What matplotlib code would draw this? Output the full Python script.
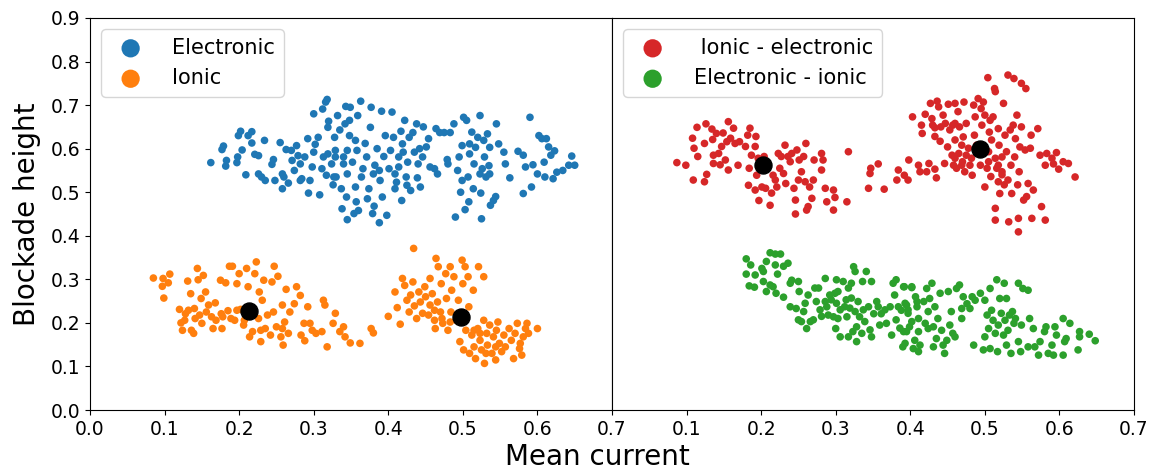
import numpy as np
import matplotlib
matplotlib.use("Agg")
import matplotlib.pyplot as plt

# ---- data ----
# left panel
electronic_pts = [
    (0.162, 0.568), (0.177, 0.598), (0.179, 0.606), (0.183, 0.573), (0.182, 0.560),
    (0.197, 0.568), (0.198, 0.581), (0.199, 0.630), (0.202, 0.640), (0.204, 0.597),
    (0.209, 0.540), (0.212, 0.630), (0.217, 0.639), (0.217, 0.613), (0.221, 0.587),
    (0.226, 0.584), (0.226, 0.542), (0.230, 0.535), (0.235, 0.527), (0.234, 0.619),
    (0.244, 0.564), (0.246, 0.575), (0.248, 0.527), (0.255, 0.614), (0.258, 0.542),
    (0.258, 0.508), (0.263, 0.598), (0.266, 0.521), (0.270, 0.596), (0.271, 0.573),
    (0.274, 0.550), (0.277, 0.607), (0.279, 0.584), (0.282, 0.565), (0.284, 0.531),
    (0.288, 0.581), (0.292, 0.623), (0.293, 0.498), (0.295, 0.527), (0.298, 0.558),
    (0.300, 0.592), (0.302, 0.610), (0.300, 0.680), (0.306, 0.626), (0.308, 0.494),
    (0.311, 0.554), (0.313, 0.581), (0.312, 0.691), (0.316, 0.707), (0.318, 0.713),
    (0.317, 0.539), (0.319, 0.649), (0.320, 0.663), (0.324, 0.565), (0.326, 0.517),
    (0.328, 0.626), (0.329, 0.581), (0.330, 0.535), (0.332, 0.676), (0.335, 0.643),
    (0.337, 0.508), (0.338, 0.462), (0.340, 0.565), (0.342, 0.657), (0.343, 0.697),
    (0.345, 0.437), (0.344, 0.489), (0.348, 0.665), (0.349, 0.695), (0.348, 0.630),
    (0.352, 0.569), (0.354, 0.451), (0.356, 0.512), (0.357, 0.478), (0.359, 0.676),
    (0.360, 0.458), (0.358, 0.596), (0.363, 0.709), (0.366, 0.554), (0.369, 0.612),
    (0.371, 0.581), (0.372, 0.485), (0.374, 0.508), (0.376, 0.649), (0.377, 0.695),
    (0.379, 0.451), (0.381, 0.468), (0.382, 0.562), (0.385, 0.600), (0.388, 0.430),
    (0.389, 0.527), (0.391, 0.686), (0.392, 0.489), (0.394, 0.582), (0.396, 0.630),
    (0.398, 0.447), (0.401, 0.554), (0.403, 0.596), (0.405, 0.684), (0.407, 0.626),
    (0.409, 0.508), (0.411, 0.523), (0.414, 0.558), (0.417, 0.640), (0.418, 0.481),
    (0.420, 0.592), (0.422, 0.665), (0.424, 0.535), (0.426, 0.569), (0.428, 0.626),
    (0.430, 0.504), (0.433, 0.637), (0.435, 0.592), (0.438, 0.657), (0.439, 0.533),
    (0.442, 0.600), (0.443, 0.512), (0.446, 0.581), (0.447, 0.650), (0.454, 0.623),
    (0.456, 0.558), (0.462, 0.554), (0.464, 0.646), (0.466, 0.542), (0.469, 0.637),
    (0.475, 0.637), (0.479, 0.575), (0.480, 0.565), (0.483, 0.637), (0.488, 0.657),
    (0.490, 0.443), (0.493, 0.550), (0.495, 0.581), (0.497, 0.500), (0.499, 0.607),
    (0.501, 0.672), (0.503, 0.460), (0.505, 0.665), (0.507, 0.535), (0.508, 0.478),
    (0.509, 0.588), (0.512, 0.638), (0.514, 0.508), (0.515, 0.565), (0.517, 0.603),
    (0.520, 0.626), (0.523, 0.676), (0.524, 0.498), (0.525, 0.439), (0.526, 0.554),
    (0.529, 0.581), (0.531, 0.535), (0.533, 0.634), (0.535, 0.561), (0.536, 0.603),
    (0.537, 0.470), (0.541, 0.481), (0.544, 0.490), (0.545, 0.657), (0.548, 0.611),
    (0.555, 0.592), (0.557, 0.565), (0.563, 0.533), (0.574, 0.594), (0.581, 0.585),
    (0.581, 0.497), (0.584, 0.558), (0.590, 0.672), (0.592, 0.512), (0.594, 0.563),
    (0.600, 0.542), (0.602, 0.630), (0.606, 0.623), (0.609, 0.569), (0.610, 0.535),
    (0.612, 0.623), (0.615, 0.604), (0.618, 0.585), (0.621, 0.531), (0.623, 0.595),
    (0.626, 0.546), (0.634, 0.550), (0.642, 0.562), (0.646, 0.583), (0.650, 0.562),
    (0.327, 0.535), (0.340, 0.581), (0.345, 0.542), (0.364, 0.535), (0.380, 0.542),
    (0.388, 0.550), (0.409, 0.542), (0.414, 0.581), (0.425, 0.516), (0.440, 0.565),
    (0.451, 0.604), (0.419, 0.611), (0.356, 0.619), (0.282, 0.527), (0.260, 0.535),
    (0.499, 0.527), (0.523, 0.542), (0.536, 0.542), (0.509, 0.611), (0.528, 0.619),
    (0.329, 0.596), (0.345, 0.596), (0.319, 0.588),
]

ionic_pts = [
    (0.085, 0.303), (0.097, 0.284), (0.098, 0.302), (0.099, 0.257), (0.105, 0.292),
    (0.107, 0.312), (0.120, 0.231), (0.122, 0.200), (0.124, 0.183), (0.127, 0.206),
    (0.131, 0.296), (0.132, 0.229), (0.135, 0.267), (0.136, 0.183), (0.139, 0.176),
    (0.140, 0.233), (0.141, 0.210), (0.144, 0.325), (0.145, 0.299), (0.147, 0.218),
    (0.149, 0.256), (0.150, 0.199), (0.152, 0.309), (0.155, 0.271), (0.156, 0.225),
    (0.159, 0.241), (0.163, 0.214), (0.165, 0.187), (0.168, 0.246), (0.169, 0.206),
    (0.175, 0.298), (0.177, 0.187), (0.178, 0.214), (0.182, 0.292), (0.185, 0.228),
    (0.187, 0.330), (0.191, 0.330), (0.194, 0.206), (0.197, 0.290), (0.200, 0.313),
    (0.202, 0.231), (0.206, 0.195), (0.210, 0.325), (0.212, 0.283), (0.214, 0.168),
    (0.218, 0.180), (0.221, 0.313), (0.223, 0.340), (0.226, 0.210), (0.227, 0.271),
    (0.229, 0.157), (0.231, 0.252), (0.233, 0.298), (0.235, 0.187), (0.238, 0.218),
    (0.242, 0.172), (0.244, 0.294), (0.246, 0.225), (0.247, 0.330), (0.250, 0.191),
    (0.252, 0.307), (0.256, 0.168), (0.258, 0.241), (0.259, 0.149), (0.261, 0.202),
    (0.263, 0.277), (0.266, 0.176), (0.268, 0.225), (0.274, 0.244), (0.277, 0.283),
    (0.282, 0.263), (0.283, 0.172), (0.287, 0.199), (0.288, 0.159), (0.292, 0.237),
    (0.295, 0.199), (0.298, 0.183), (0.303, 0.176), (0.311, 0.180), (0.313, 0.252),
    (0.315, 0.241), (0.318, 0.145), (0.326, 0.199), (0.329, 0.222), (0.335, 0.180),
    (0.340, 0.191), (0.342, 0.168), (0.349, 0.154), (0.362, 0.153), (0.377, 0.187),
    (0.380, 0.177), (0.128, 0.221), (0.197, 0.229), (0.207, 0.206), (0.176, 0.221),
    (0.189, 0.210), (0.218, 0.225), (0.229, 0.183), (0.258, 0.187),
    (0.400, 0.215), (0.409, 0.271), (0.412, 0.235), (0.416, 0.197), (0.419, 0.302),
    (0.422, 0.286), (0.425, 0.252), (0.428, 0.225), (0.430, 0.264), (0.433, 0.294),
    (0.434, 0.371), (0.435, 0.239), (0.438, 0.210), (0.441, 0.271), (0.443, 0.248),
    (0.446, 0.222), (0.449, 0.283), (0.450, 0.260), (0.454, 0.218), (0.456, 0.241),
    (0.456, 0.302), (0.459, 0.267), (0.462, 0.206), (0.463, 0.187), (0.464, 0.348),
    (0.466, 0.248), (0.467, 0.329), (0.470, 0.225), (0.471, 0.290), (0.473, 0.199),
    (0.477, 0.313), (0.478, 0.256), (0.480, 0.183), (0.483, 0.329), (0.484, 0.225),
    (0.485, 0.275), (0.488, 0.306), (0.491, 0.206), (0.494, 0.252), (0.496, 0.157),
    (0.499, 0.344), (0.500, 0.290), (0.501, 0.138), (0.503, 0.329), (0.504, 0.183),
    (0.507, 0.306), (0.508, 0.237), (0.509, 0.130), (0.512, 0.172), (0.514, 0.275),
    (0.515, 0.145), (0.517, 0.118), (0.520, 0.187), (0.521, 0.329), (0.523, 0.160),
    (0.525, 0.138), (0.528, 0.306), (0.528, 0.206), (0.529, 0.107), (0.532, 0.176),
    (0.533, 0.149), (0.536, 0.195), (0.539, 0.130), (0.541, 0.168), (0.544, 0.115),
    (0.545, 0.183), (0.547, 0.202), (0.549, 0.153), (0.552, 0.134), (0.555, 0.172),
    (0.557, 0.145), (0.562, 0.187), (0.565, 0.160), (0.568, 0.118), (0.570, 0.176),
    (0.573, 0.199), (0.576, 0.141), (0.577, 0.153), (0.579, 0.126), (0.581, 0.168),
    (0.584, 0.187), (0.586, 0.199), (0.588, 0.176), (0.600, 0.187),
    (0.462, 0.229), (0.472, 0.210), (0.483, 0.202), (0.515, 0.183), (0.523, 0.176),
    (0.531, 0.130), (0.544, 0.145),
]

left_centers = [(0.213, 0.228), (0.498, 0.213)]

# right panel
ionic_elec_pts = [
    (0.087, 0.568), (0.099, 0.562), (0.109, 0.528), (0.108, 0.624), (0.114, 0.649),
    (0.110, 0.601), (0.115, 0.582), (0.124, 0.524), (0.126, 0.657), (0.124, 0.612),
    (0.127, 0.541), (0.134, 0.645), (0.135, 0.621), (0.136, 0.585), (0.136, 0.566),
    (0.140, 0.635), (0.143, 0.589), (0.145, 0.563), (0.147, 0.605), (0.149, 0.636),
    (0.152, 0.574), (0.154, 0.616), (0.156, 0.662), (0.156, 0.551), (0.159, 0.624),
    (0.163, 0.647), (0.165, 0.612), (0.169, 0.562), (0.171, 0.616), (0.179, 0.605),
    (0.182, 0.631), (0.183, 0.516), (0.185, 0.647), (0.184, 0.555), (0.187, 0.585),
    (0.192, 0.605), (0.193, 0.628), (0.192, 0.505), (0.194, 0.539), (0.196, 0.578),
    (0.197, 0.481), (0.201, 0.512), (0.204, 0.582), (0.206, 0.509), (0.212, 0.470),
    (0.214, 0.498), (0.216, 0.539), (0.219, 0.528), (0.221, 0.512), (0.223, 0.589),
    (0.225, 0.555), (0.227, 0.582), (0.230, 0.543), (0.232, 0.608), (0.233, 0.520),
    (0.236, 0.582), (0.239, 0.570), (0.241, 0.589), (0.244, 0.509), (0.246, 0.482),
    (0.246, 0.450), (0.248, 0.597), (0.250, 0.528), (0.251, 0.574), (0.254, 0.547),
    (0.257, 0.582), (0.259, 0.524), (0.260, 0.612), (0.261, 0.459), (0.263, 0.467),
    (0.265, 0.512), (0.268, 0.486), (0.270, 0.528), (0.271, 0.574), (0.281, 0.589),
    (0.281, 0.551), (0.283, 0.574), (0.286, 0.509), (0.288, 0.478), (0.297, 0.505),
    (0.297, 0.459), (0.299, 0.488), (0.315, 0.478), (0.317, 0.593),
    (0.344, 0.509), (0.346, 0.543), (0.347, 0.555), (0.357, 0.565), (0.365, 0.507),
    (0.382, 0.528), (0.384, 0.551), (0.392, 0.539), (0.397, 0.528), (0.398, 0.574),
    (0.403, 0.673), (0.411, 0.562), (0.413, 0.547), (0.415, 0.654), (0.416, 0.635),
    (0.420, 0.679), (0.422, 0.547), (0.425, 0.566), (0.427, 0.704), (0.429, 0.669),
    (0.430, 0.654), (0.433, 0.628), (0.433, 0.553), (0.435, 0.533), (0.436, 0.709),
    (0.438, 0.696), (0.441, 0.650), (0.444, 0.677), (0.446, 0.566), (0.447, 0.658),
    (0.450, 0.604), (0.451, 0.702), (0.453, 0.643), (0.456, 0.585), (0.457, 0.654),
    (0.458, 0.562), (0.460, 0.704), (0.460, 0.620), (0.462, 0.555), (0.464, 0.685),
    (0.465, 0.589), (0.466, 0.650), (0.469, 0.608), (0.470, 0.570), (0.471, 0.627),
    (0.472, 0.707), (0.473, 0.547), (0.475, 0.658), (0.475, 0.585), (0.478, 0.601),
    (0.480, 0.562), (0.483, 0.539), (0.485, 0.700), (0.486, 0.631), (0.487, 0.673),
    (0.489, 0.608), (0.491, 0.715), (0.494, 0.562), (0.495, 0.692), (0.496, 0.654),
    (0.498, 0.707), (0.500, 0.677), (0.500, 0.512), (0.503, 0.555), (0.504, 0.763),
    (0.505, 0.570), (0.506, 0.638), (0.507, 0.665), (0.508, 0.536), (0.509, 0.620),
    (0.511, 0.673), (0.513, 0.738), (0.514, 0.731), (0.514, 0.463), (0.514, 0.436),
    (0.516, 0.555), (0.518, 0.646), (0.518, 0.524), (0.519, 0.608), (0.520, 0.497),
    (0.523, 0.581), (0.523, 0.540), (0.525, 0.704), (0.526, 0.517), (0.527, 0.631),
    (0.529, 0.593), (0.531, 0.769), (0.531, 0.528), (0.532, 0.432), (0.534, 0.643),
    (0.535, 0.562), (0.536, 0.497), (0.538, 0.654), (0.539, 0.761), (0.540, 0.581),
    (0.541, 0.623), (0.543, 0.677), (0.544, 0.517), (0.545, 0.440), (0.545, 0.409),
    (0.546, 0.547), (0.547, 0.604), (0.549, 0.650), (0.549, 0.750), (0.552, 0.482),
    (0.554, 0.597), (0.555, 0.738), (0.556, 0.490), (0.558, 0.520), (0.561, 0.601),
    (0.562, 0.631), (0.563, 0.440), (0.565, 0.505), (0.571, 0.646), (0.574, 0.585),
    (0.576, 0.467), (0.581, 0.562), (0.583, 0.589), (0.581, 0.436), (0.590, 0.578),
    (0.592, 0.565), (0.596, 0.591), (0.599, 0.553), (0.605, 0.570), (0.612, 0.566),
    (0.621, 0.535), (0.460, 0.578), (0.469, 0.562), (0.482, 0.578), (0.505, 0.593),
    (0.514, 0.578), (0.518, 0.562), (0.523, 0.547), (0.460, 0.658), (0.433, 0.648),
    (0.440, 0.617),
]

elec_ionic_pts = [
    (0.180, 0.347), (0.186, 0.333), (0.180, 0.312), (0.192, 0.310), (0.184, 0.285),
    (0.191, 0.282), (0.201, 0.325), (0.203, 0.318), (0.207, 0.341), (0.212, 0.361),
    (0.219, 0.358), (0.226, 0.358), (0.219, 0.333), (0.222, 0.312), (0.230, 0.330),
    (0.236, 0.337), (0.203, 0.295), (0.207, 0.272), (0.212, 0.287), (0.216, 0.283),
    (0.220, 0.268), (0.230, 0.259), (0.239, 0.291), (0.241, 0.298), (0.250, 0.295),
    (0.251, 0.272), (0.239, 0.237), (0.247, 0.233), (0.259, 0.245), (0.263, 0.264),
    (0.257, 0.226), (0.250, 0.207), (0.254, 0.203), (0.261, 0.187), (0.266, 0.203),
    (0.270, 0.207), (0.272, 0.280), (0.277, 0.280), (0.274, 0.249), (0.279, 0.230),
    (0.281, 0.215), (0.286, 0.302), (0.286, 0.249), (0.288, 0.237), (0.290, 0.218),
    (0.292, 0.264), (0.294, 0.253), (0.297, 0.214), (0.299, 0.268), (0.301, 0.299),
    (0.301, 0.245), (0.303, 0.272), (0.303, 0.210), (0.306, 0.230), (0.300, 0.187),
    (0.306, 0.168), (0.310, 0.295), (0.312, 0.237), (0.314, 0.253), (0.315, 0.214),
    (0.317, 0.280), (0.317, 0.168), (0.319, 0.234), (0.321, 0.291), (0.321, 0.257),
    (0.323, 0.180), (0.324, 0.329), (0.326, 0.318), (0.326, 0.226), (0.328, 0.191),
    (0.328, 0.157), (0.330, 0.249), (0.332, 0.214), (0.335, 0.176), (0.336, 0.295),
    (0.337, 0.230), (0.339, 0.203), (0.341, 0.318), (0.344, 0.237), (0.346, 0.184),
    (0.348, 0.295), (0.348, 0.168), (0.351, 0.221), (0.355, 0.249), (0.357, 0.237),
    (0.359, 0.195), (0.361, 0.221), (0.366, 0.230), (0.368, 0.199), (0.373, 0.237),
    (0.375, 0.172), (0.377, 0.291), (0.379, 0.264), (0.381, 0.299), (0.381, 0.207),
    (0.384, 0.237), (0.386, 0.188), (0.390, 0.145), (0.391, 0.283), (0.393, 0.245),
    (0.395, 0.180), (0.397, 0.230), (0.402, 0.283), (0.402, 0.203), (0.404, 0.141),
    (0.406, 0.160), (0.409, 0.249), (0.411, 0.134),
    (0.392, 0.283), (0.402, 0.281), (0.395, 0.241), (0.388, 0.229), (0.397, 0.222),
    (0.391, 0.180), (0.399, 0.191), (0.393, 0.153), (0.407, 0.260), (0.409, 0.237),
    (0.411, 0.210), (0.411, 0.180), (0.413, 0.149), (0.418, 0.249), (0.420, 0.199),
    (0.422, 0.279), (0.424, 0.187), (0.424, 0.226), (0.426, 0.256), (0.429, 0.291),
    (0.431, 0.145), (0.431, 0.191), (0.433, 0.237), (0.435, 0.164), (0.437, 0.210),
    (0.440, 0.268), (0.442, 0.183), (0.444, 0.149), (0.446, 0.130), (0.449, 0.160),
    (0.451, 0.272), (0.453, 0.195), (0.455, 0.226), (0.457, 0.176), (0.460, 0.168),
    (0.462, 0.279), (0.466, 0.287), (0.469, 0.233), (0.469, 0.210), (0.471, 0.260),
    (0.476, 0.244), (0.480, 0.233), (0.483, 0.260), (0.485, 0.149), (0.487, 0.252),
    (0.494, 0.268), (0.498, 0.138), (0.500, 0.252), (0.500, 0.168), (0.503, 0.218),
    (0.505, 0.187), (0.507, 0.279), (0.507, 0.141), (0.509, 0.229), (0.511, 0.206),
    (0.514, 0.176), (0.516, 0.299), (0.517, 0.134), (0.518, 0.195), (0.520, 0.256),
    (0.522, 0.222), (0.525, 0.172), (0.526, 0.291), (0.527, 0.206), (0.529, 0.256),
    (0.529, 0.149), (0.531, 0.183), (0.533, 0.218), (0.535, 0.130), (0.537, 0.226),
    (0.539, 0.199), (0.541, 0.210), (0.545, 0.291), (0.545, 0.157), (0.548, 0.134),
    (0.549, 0.195), (0.551, 0.279), (0.558, 0.275), (0.558, 0.145), (0.560, 0.210),
    (0.565, 0.187), (0.567, 0.145), (0.572, 0.126), (0.574, 0.157), (0.580, 0.180),
    (0.582, 0.191), (0.585, 0.130), (0.590, 0.149), (0.592, 0.126), (0.594, 0.191),
    (0.596, 0.172), (0.605, 0.126), (0.605, 0.210), (0.607, 0.157), (0.609, 0.164),
    (0.614, 0.199), (0.625, 0.138), (0.627, 0.168), (0.627, 0.180), (0.640, 0.174),
    (0.648, 0.159),
]

right_centers = [(0.203, 0.562), (0.494, 0.600)]

x_ticks_left = [0.0, 0.1, 0.2, 0.3, 0.4, 0.5, 0.6, 0.7]
x_ticks_right = [0.1, 0.2, 0.3, 0.4, 0.5, 0.6, 0.7]
y_ticks = [0.0, 0.1, 0.2, 0.3, 0.4, 0.5, 0.6, 0.7, 0.8, 0.9]

# ---- plotting ----
fig = plt.figure(figsize=(11.58, 4.72), dpi=100)
ax1 = fig.add_axes([90 / 1158, 1 - 410 / 472, 522 / 1158, 392 / 472])
ax2 = fig.add_axes([612 / 1158, 1 - 410 / 472, 522 / 1158, 392 / 472])

dot = 30
big = 150

def draw(ax, groups, centers, labels, colors):
    for pts, lab, col in zip(groups, labels, colors):
        xy = np.array(pts)
        ax.scatter(xy[:, 0], xy[:, 1], s=dot, color=col, label=lab, edgecolors='none')
    c = np.array(centers)
    ax.scatter(c[:, 0], c[:, 1], s=big, color='black', zorder=3)
    ax.set_xlim(0, 0.7)
    ax.set_ylim(0, 0.9)
    leg = ax.legend(loc='upper left', fontsize=15, markerscale=2.4,
                    handletextpad=1.0, borderaxespad=0.55)
    return leg

draw(ax1, [electronic_pts, ionic_pts], left_centers,
     ['Electronic', 'Ionic'], ['tab:blue', 'tab:orange'])
draw(ax2, [ionic_elec_pts, elec_ionic_pts], right_centers,
     [' Ionic - electronic', 'Electronic - ionic'], ['tab:red', 'tab:green'])

ax1.set_xticks(x_ticks_left)
ax1.set_yticks(y_ticks)
ax2.set_xticks(x_ticks_right)
ax2.set_yticks([])
for ax in (ax1, ax2):
    ax.tick_params(labelsize=13.5)

ax1.set_ylabel('Blockade height', fontsize=20, labelpad=7)
fig.text(597 / 1158, 1 - 457 / 472, 'Mean current', fontsize=20,
         ha='center', va='center')

fig.savefig('out.png', dpi=100)
